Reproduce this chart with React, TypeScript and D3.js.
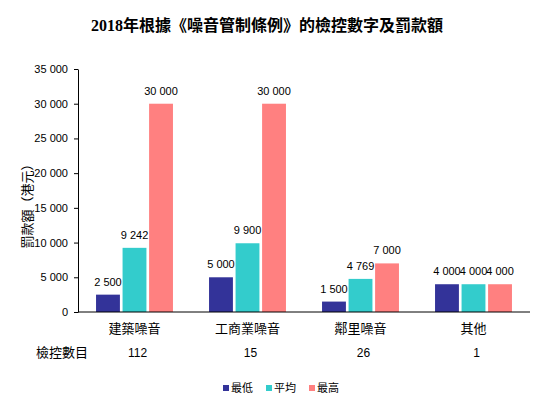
import React, { useEffect, useRef } from "react";
import * as d3 from "d3";

const categories = ["建築噪音", "工商業噪音", "鄰里噪音", "其他"];
const seriesNames = ["最低", "平均", "最高"];
const lowest = [2500, 5000, 1500, 4000];
const average = [9242, 9900, 4769, 4000];
const highest = [30000, 30000, 7000, 4000];
const prosecutions = [112, 15, 26, 1];
const colors = ["#333399", "#33cccc", "#ff8080"];

const SANS = "'Liberation Sans', Arial, 'Noto Sans CJK TC', sans-serif";
const TITLE_FONT = "'Liberation Serif', 'Noto Sans CJK TC', serif";

const App = () => {
  const chartRef = useRef<SVGSVGElement>(null);

  useEffect(() => {
    drawChart();
  }, []);

  const drawChart = () => {
    const width = 543;
    const height = 403;
    const margin = { top: 69, right: 13, bottom: 91, left: 78 };

    const svg = d3.select(chartRef.current);
    svg.selectAll("*").remove();

    const fmt = d3
      .formatLocale({ decimal: ".", thousands: " ", grouping: [3], currency: ["", ""] })
      .format(",d");

    // scales
    const x0 = d3
      .scaleBand()
      .domain(categories)
      .range([margin.left, width - margin.right]);
    const x1 = d3
      .scaleBand()
      .domain(seriesNames)
      .range([0, x0.bandwidth()])
      .paddingInner(0.1)
      .paddingOuter(0.68);
    const y = d3
      .scaleLinear()
      .domain([0, 35000])
      .range([height - margin.bottom, margin.top]);

    // title
    svg
      .append("text")
      .attr("x", 267)
      .attr("y", 31)
      .attr("text-anchor", "middle")
      .style("font-family", TITLE_FONT)
      .style("font-size", "16px")
      .style("font-weight", "bold")
      .text("2018年根據《噪音管制條例》的檢控數字及罰款額");

    // Y axis
    const yAxis = svg
      .append("g")
      .attr("transform", `translate(${margin.left},0)`)
      .call(
        d3
          .axisLeft(y)
          .tickValues(d3.range(0, 35001, 5000))
          .tickFormat((d) => fmt(d as number))
          .tickSize(4)
          .tickSizeOuter(0)
          .tickPadding(6)
      );
    yAxis.select(".domain").attr("stroke", "#000");
    yAxis.selectAll("line").attr("stroke", "#000");
    yAxis
      .selectAll("text")
      .style("font-family", SANS)
      .style("font-size", "11px")
      .attr("fill", "#000");

    // y axis title
    svg
      .append("text")
      .attr("transform", `translate(32,203) rotate(-90)`)
      .attr("text-anchor", "middle")
      .style("font-family", SANS)
      .style("font-size", "13px")
      .text("罰款額（港元）");

    // bars
    const rows = categories.map((c, i) => ({
      category: c,
      values: [lowest[i], average[i], highest[i]],
    }));

    const groups = svg
      .selectAll("g.group")
      .data(rows)
      .enter()
      .append("g")
      .attr("class", "group")
      .attr("transform", (d) => `translate(${x0(d.category)},0)`);

    groups
      .selectAll("rect")
      .data((d) => d.values.map((v, j) => ({ name: seriesNames[j], value: v, idx: j })))
      .enter()
      .append("rect")
      .attr("x", (d) => x1(d.name)!)
      .attr("y", (d) => y(d.value))
      .attr("width", x1.bandwidth())
      .attr("height", (d) => y(0) - y(d.value))
      .attr("fill", (d) => colors[d.idx]);

    groups
      .selectAll("text.val")
      .data((d) => d.values.map((v, j) => ({ name: seriesNames[j], value: v })))
      .enter()
      .append("text")
      .attr("class", "val")
      .attr("x", (d) => x1(d.name)! + x1.bandwidth() / 2)
      .attr("y", (d) => y(d.value) - 9)
      .attr("text-anchor", "middle")
      .style("font-family", SANS)
      .style("font-size", "11px")
      .text((d) => fmt(d.value));

    // X axis line
    svg
      .append("line")
      .attr("x1", margin.left)
      .attr("x2", width - margin.right)
      .attr("y1", y(0))
      .attr("y2", y(0))
      .attr("stroke", "#000");

    // category labels
    svg
      .selectAll("text.cat")
      .data(categories)
      .enter()
      .append("text")
      .attr("class", "cat")
      .attr("x", (d) => x0(d)! + x0.bandwidth() / 2)
      .attr("y", y(0) + 21)
      .attr("text-anchor", "middle")
      .style("font-family", SANS)
      .style("font-size", "13px")
      .text((d) => d);

    // prosecutions row
    svg
      .append("text")
      .attr("x", margin.left + 10)
      .attr("y", y(0) + 45)
      .attr("text-anchor", "end")
      .style("font-family", SANS)
      .style("font-size", "13px")
      .text("檢控數目");

    svg
      .selectAll("text.count")
      .data(prosecutions)
      .enter()
      .append("text")
      .attr("class", "count")
      .attr("x", (d, i) => x0(categories[i])! + x0.bandwidth() / 2 + 3)
      .attr("y", y(0) + 45)
      .attr("text-anchor", "middle")
      .style("font-family", SANS)
      .style("font-size", "12px")
      .text((d) => d);

    // legend
    const legend = svg.append("g").attr("transform", `translate(223,388)`);
    let lx = 0;
    seriesNames.forEach((name, i) => {
      legend
        .append("rect")
        .attr("x", lx)
        .attr("y", -3)
        .attr("width", 6)
        .attr("height", 6)
        .attr("fill", colors[i]);
      legend
        .append("text")
        .attr("x", lx + 8)
        .attr("y", 4)
        .style("font-family", SANS)
        .style("font-size", "11px")
        .text(name);
      lx += 43;
    });
  };

  return (
    <svg
      ref={chartRef}
      width={543}
      height={403}
      style={{ position: "absolute", left: 0, top: 0, background: "#fff" }}
    />
  );
};

export default App;
